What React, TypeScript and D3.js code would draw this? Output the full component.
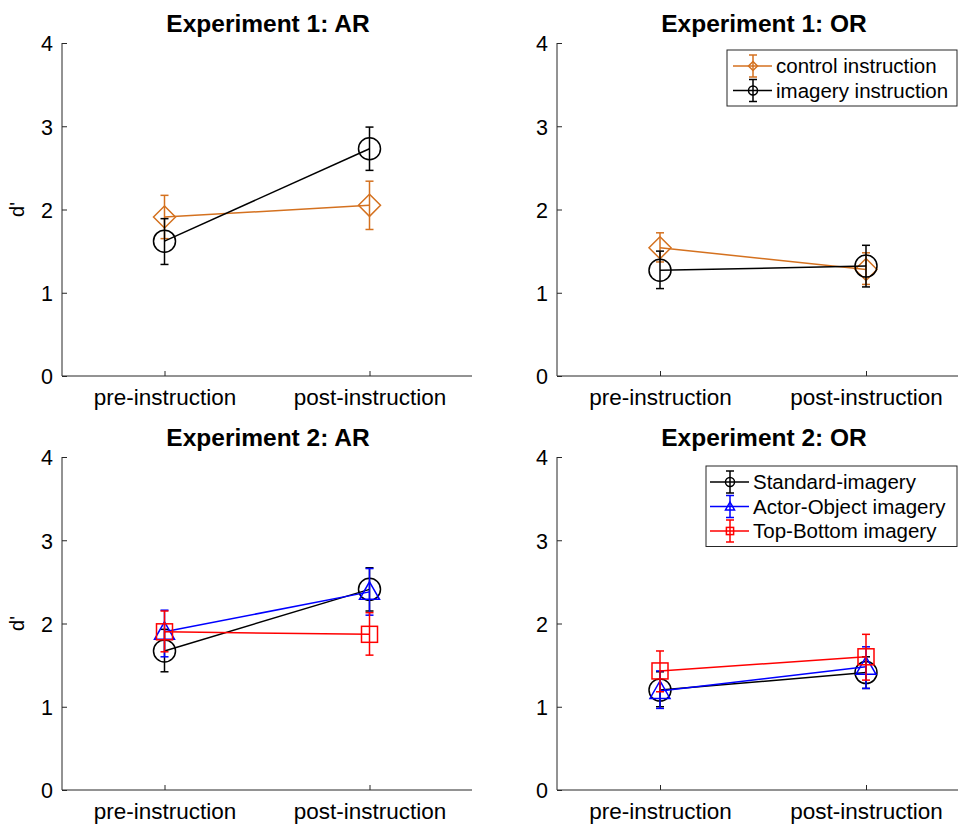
import React, { useEffect, useRef } from "react";
import * as d3 from "d3";

const conditions = ["pre-instruction", "post-instruction"];
const yTicks = [0, 1, 2, 3, 4];

// Experiment 1 (mean, lower, upper)
const e1ArControl = [[1.91, 1.65, 2.17], [2.05, 1.76, 2.34]];
const e1ArImagery = [[1.62, 1.34, 1.89], [2.73, 2.47, 2.99]];
const e1OrControl = [[1.54, 1.37, 1.72], [1.28, 1.1, 1.48]];
const e1OrImagery = [[1.27, 1.05, 1.5], [1.32, 1.07, 1.57]];

// Experiment 2
const e2ArStandard = [[1.67, 1.42, 1.93], [2.41, 2.15, 2.67]];
const e2ArActor = [[1.9, 1.6, 2.16], [2.38, 2.1, 2.66]];
const e2ArTopBottom = [[1.9, 1.66, 2.15], [1.87, 1.62, 2.13]];
const e2OrStandard = [[1.2, 1.0, 1.42], [1.41, 1.22, 1.6]];
const e2OrActor = [[1.19, 0.98, 1.43], [1.48, 1.22, 1.72]];
const e2OrTopBottom = [[1.43, 1.18, 1.67], [1.6, 1.32, 1.87]];

const ORANGE = "#d4711f";
const FONT = "'Liberation Sans', Arial, sans-serif";

type Series = { name: string; color: string; marker: string; data: number[][] };

const panels = [
  {
    title: "Experiment 1: AR", x0: 62, x1: 472, y0: 376, y1: 43, ylabel: true,
    series: [
      { name: "control instruction", color: ORANGE, marker: "diamond", data: e1ArControl },
      { name: "imagery instruction", color: "#000", marker: "circle", data: e1ArImagery },
    ] as Series[],
    legend: null as null | { x: number; y: number; w: number; line: number },
  },
  {
    title: "Experiment 1: OR", x0: 557, x1: 969, y0: 376, y1: 43, ylabel: false,
    series: [
      { name: "control instruction", color: ORANGE, marker: "diamond", data: e1OrControl },
      { name: "imagery instruction", color: "#000", marker: "circle", data: e1OrImagery },
    ] as Series[],
    legend: { x: 727, y: 50, w: 230, line: 6 },
  },
  {
    title: "Experiment 2: AR", x0: 62, x1: 472, y0: 790, y1: 457, ylabel: true,
    series: [
      { name: "Standard-imagery", color: "#000", marker: "circle", data: e2ArStandard },
      { name: "Actor-Object imagery", color: "#0000ff", marker: "triangle", data: e2ArActor },
      { name: "Top-Bottom imagery", color: "#ff0000", marker: "square", data: e2ArTopBottom },
    ] as Series[],
    legend: null,
  },
  {
    title: "Experiment 2: OR", x0: 557, x1: 969, y0: 790, y1: 457, ylabel: false,
    series: [
      { name: "Standard-imagery", color: "#000", marker: "circle", data: e2OrStandard },
      { name: "Actor-Object imagery", color: "#0000ff", marker: "triangle", data: e2OrActor },
      { name: "Top-Bottom imagery", color: "#ff0000", marker: "square", data: e2OrTopBottom },
    ] as Series[],
    legend: { x: 706, y: 466, w: 251, line: 4 },
  },
];

function drawMarker(g: any, kind: string, cx: number, cy: number, color: string, s: number) {
  if (kind === "circle") {
    g.append("circle").attr("cx", cx).attr("cy", cy).attr("r", s)
      .attr("fill", "none").attr("stroke", color).attr("stroke-width", 1.5);
  } else if (kind === "diamond") {
    g.append("path").attr("d", `M${cx},${cy - s}L${cx + s},${cy}L${cx},${cy + s}L${cx - s},${cy}Z`)
      .attr("fill", "none").attr("stroke", color).attr("stroke-width", 1.5);
  } else if (kind === "triangle") {
    g.append("path").attr("d", `M${cx},${cy - s}L${cx + s},${cy + s * 0.75}L${cx - s},${cy + s * 0.75}Z`)
      .attr("fill", "none").attr("stroke", color).attr("stroke-width", 1.5);
  } else {
    g.append("rect").attr("x", cx - s * 0.8).attr("y", cy - s * 0.8).attr("width", s * 1.6).attr("height", s * 1.6)
      .attr("fill", "none").attr("stroke", color).attr("stroke-width", 1.5);
  }
}

const markerSize: Record<string, number> = { circle: 11, diamond: 11, triangle: 10, square: 10 };

export default function App() {
  const ref = useRef<SVGSVGElement>(null);

  useEffect(() => {
    const svg = d3.select(ref.current);
    svg.selectAll("*").remove();

    panels.forEach((p) => {
      const x = d3.scalePoint().domain(conditions).range([p.x0, p.x1]).padding(0.5);
      const y = d3.scaleLinear().domain([0, 4]).range([p.y0, p.y1]);
      const g = svg.append("g");

      // axes
      const yAxis = d3.axisLeft(y).tickValues(yTicks).tickSize(-5).tickPadding(9).tickFormat(d3.format("d"));
      const ya = g.append("g").attr("transform", `translate(${p.x0},0)`).call(yAxis);
      const xAxis = d3.axisBottom(x).tickSize(-5).tickPadding(12);
      const xa = g.append("g").attr("transform", `translate(0,${p.y0})`).call(xAxis);
      [ya, xa].forEach((a) => {
        a.select(".domain").attr("stroke", "#262626").attr("stroke-width", 1);
        a.selectAll("line").attr("stroke", "#262626");
        a.selectAll("text").attr("font-family", FONT).attr("fill", "#000");
      });
      ya.selectAll("text").attr("font-size", 21.5).attr("dy", "0.36em");
      xa.selectAll("text").attr("font-size", 22.5).attr("y", 0).attr("dy", 29);
      ya.select(".domain").attr("d", `M0,${p.y0}V${p.y1}`);
      xa.select(".domain").attr("d", `M${p.x0},0H${p.x1}`);

      g.append("text").attr("x", (p.x0 + p.x1) / 2 + 1).attr("y", p.y1 - 11)
        .attr("text-anchor", "middle").attr("font-family", FONT).attr("font-weight", "bold")
        .attr("font-size", 24.5).text(p.title);

      if (p.ylabel) {
        g.append("text")
          .attr("transform", `translate(24,${(p.y0 + p.y1) / 2}) rotate(-90)`)
          .attr("text-anchor", "middle").attr("font-family", FONT).attr("font-size", 20).text("d'");
      }

      p.series.forEach((s) => {
        const line = d3.line<number[]>().x((_, i) => x(conditions[i])!).y((d) => y(d[0]));
        g.append("path").datum(s.data).attr("d", line).attr("fill", "none")
          .attr("stroke", s.color).attr("stroke-width", 1.5);
        s.data.forEach((d, i) => {
          const cx = x(conditions[i])!;
          g.append("line").attr("x1", cx).attr("x2", cx).attr("y1", y(d[1])).attr("y2", y(d[2]))
            .attr("stroke", s.color).attr("stroke-width", 1.5);
          [d[1], d[2]].forEach((v) => {
            g.append("line").attr("x1", cx - 4).attr("x2", cx + 4).attr("y1", y(v)).attr("y2", y(v))
              .attr("stroke", s.color).attr("stroke-width", 1.5);
          });
          drawMarker(g, s.marker, cx, y(d[0]), s.color, markerSize[s.marker]);
        });
      });

      if (p.legend) {
        const L = p.legend;
        const rowH = 24.5;
        const h = p.series.length * rowH + 7;
        const lg = svg.append("g");
        lg.append("rect").attr("x", L.x).attr("y", L.y).attr("width", L.w).attr("height", h)
          .attr("fill", "#fff").attr("stroke", "#262626").attr("stroke-width", 1);
        p.series.forEach((s, i) => {
          const cy = L.y + 16 + i * rowH;
          const lx = L.x + L.line;
          lg.append("line").attr("x1", lx).attr("x2", lx + 39).attr("y1", cy).attr("y2", cy)
            .attr("stroke", s.color).attr("stroke-width", 1.5);
          const mx = lx + 20;
          lg.append("line").attr("x1", mx).attr("x2", mx).attr("y1", cy - 11).attr("y2", cy + 11)
            .attr("stroke", s.color).attr("stroke-width", 1.5);
          [cy - 11, cy + 11].forEach((v) => {
            lg.append("line").attr("x1", mx - 4).attr("x2", mx + 4).attr("y1", v).attr("y2", v)
              .attr("stroke", s.color).attr("stroke-width", 1.5);
          });
          drawMarker(lg, s.marker, mx, cy, s.color, 4.5);
          lg.append("text").attr("x", lx + 43).attr("y", cy + 7)
            .attr("font-family", FONT).attr("font-size", 20.5).text(s.name);
        });
      }
    });
  }, []);

  return (
    <svg ref={ref} width={958} height={827}
      style={{ position: "fixed", left: 0, top: 0, background: "#fff" }} />
  );
}
